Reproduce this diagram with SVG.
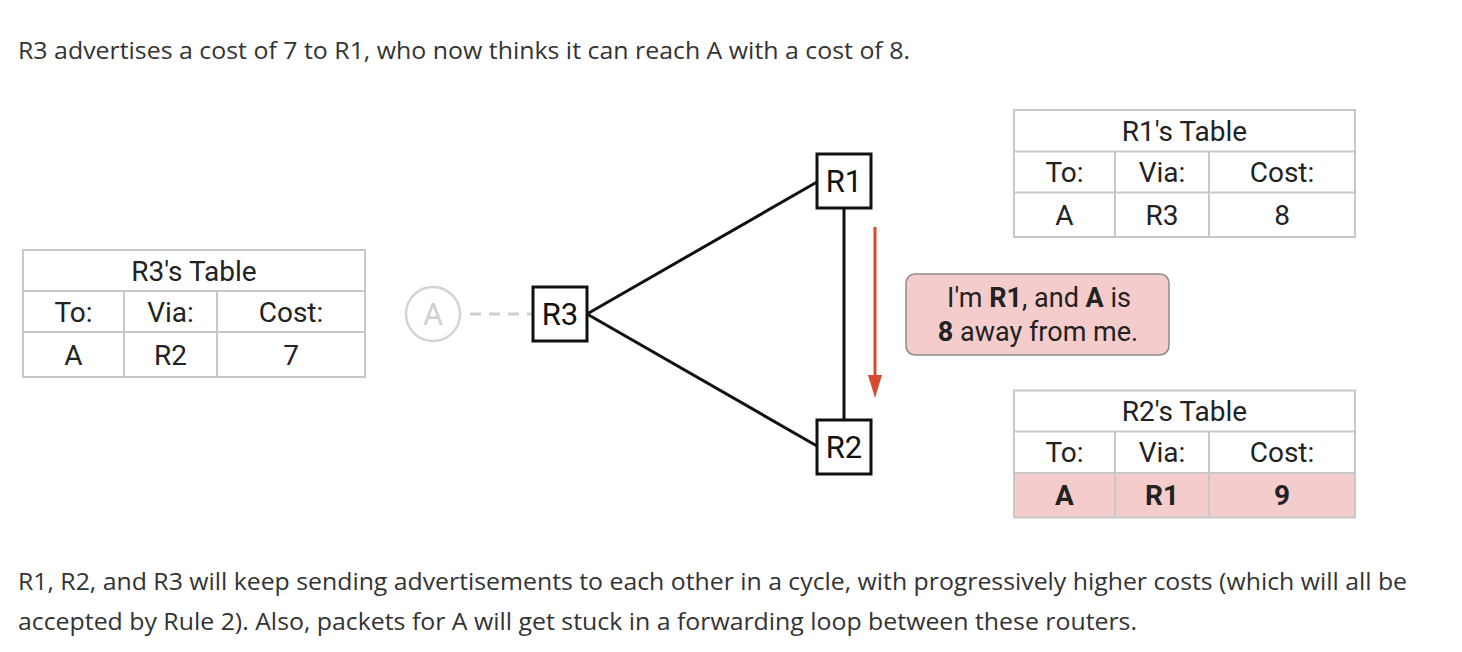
<svg xmlns="http://www.w3.org/2000/svg" width="1462" height="652" viewBox="0 0 1462 652">
<style>
.para{font-family:"Open Sans","Liberation Sans",sans-serif;font-size:24.5px;fill:#333}
.t{font-family:Roboto,"Liberation Sans",sans-serif;font-size:28px;fill:#222;text-anchor:middle}
.rl{font-family:Roboto,"Liberation Sans",sans-serif;font-size:31px;fill:#111;text-anchor:middle}
.bt{font-family:Roboto,"Liberation Sans",sans-serif;font-size:27px;fill:#222;text-anchor:middle}
.b{font-weight:bold}
.grid{fill:none;stroke:#c8c8c8;stroke-width:2}
.router{fill:#fff;stroke:#111;stroke-width:3}
.link{stroke:#111;stroke-width:3;fill:none}
</style>
<rect width="1462" height="652" fill="#fff"/>
<text class="para" x="18" y="59" textLength="892" lengthAdjust="spacingAndGlyphs">R3 advertises a cost of 7 to R1, who now thinks it can reach A with a cost of 8.</text>
<text class="para" x="18" y="590" textLength="1389" lengthAdjust="spacingAndGlyphs">R1, R2, and R3 will keep sending advertisements to each other in a cycle, with progressively higher costs (which will all be</text>
<text class="para" x="18" y="630" textLength="1119" lengthAdjust="spacingAndGlyphs">accepted by Rule 2). Also, packets for A will get stuck in a forwarding loop between these routers.</text>

<g id="connectors">
<line class="link" x1="587" y1="314" x2="817" y2="182"/>
<line class="link" x1="587" y1="314" x2="817" y2="446"/>
<line class="link" x1="844" y1="208" x2="844" y2="420"/>
<line x1="470" y1="314" x2="533" y2="314" stroke="#cfcfcf" stroke-width="3" stroke-dasharray="11,8"/>
<line x1="875" y1="227" x2="875" y2="376" stroke="#d64a2f" stroke-width="3"/>
<path d="M868,375 L882,375 L875,398 Z" fill="#d64a2f"/>
</g>

<g id="nodeA">
<circle cx="433" cy="314" r="27" fill="#fff" stroke="#d4d4d4" stroke-width="2.5"/>
<text class="rl" x="433" y="325" style="fill:#d0d0d0">A</text>
</g>
<g id="R1">
<rect class="router" x="817" y="154" width="54" height="54"/>
<text class="rl" x="844" y="192">R1</text>
</g>
<g id="R3">
<rect class="router" x="533" y="287" width="54" height="54"/>
<text class="rl" x="560" y="325">R3</text>
</g>
<g id="R2">
<rect class="router" x="817" y="420" width="54" height="54"/>
<text class="rl" x="844" y="458">R2</text>
</g>

<g id="R3table">
<rect x="23" y="250" width="342" height="127" fill="#fff"/>
<rect class="grid" x="23" y="250" width="342" height="127"/>
<line class="grid" x1="23" y1="291" x2="365" y2="291"/>
<line class="grid" x1="23" y1="332" x2="365" y2="332"/>
<line class="grid" x1="124" y1="291" x2="124" y2="377"/>
<line class="grid" x1="217" y1="291" x2="217" y2="377"/>
<text class="t" x="194" y="280.5">R3's Table</text>
<text class="t" x="73.5" y="321.5">To:</text>
<text class="t" x="170.5" y="321.5">Via:</text>
<text class="t" x="291" y="321.5">Cost:</text>
<text class="t" x="73.5" y="364.5">A</text>
<text class="t" x="170.5" y="364.5">R2</text>
<text class="t" x="291" y="364.5">7</text>
</g>

<g id="R1table">
<rect x="1014" y="110" width="341" height="127" fill="#fff"/>
<rect class="grid" x="1014" y="110" width="341" height="127"/>
<line class="grid" x1="1014" y1="151.5" x2="1355" y2="151.5"/>
<line class="grid" x1="1014" y1="192.5" x2="1355" y2="192.5"/>
<line class="grid" x1="1115" y1="151.5" x2="1115" y2="237"/>
<line class="grid" x1="1209" y1="151.5" x2="1209" y2="237"/>
<text class="t" x="1184.5" y="141">R1's Table</text>
<text class="t" x="1064.5" y="182">To:</text>
<text class="t" x="1162" y="182">Via:</text>
<text class="t" x="1282" y="182">Cost:</text>
<text class="t" x="1064.5" y="225">A</text>
<text class="t" x="1162" y="225">R3</text>
<text class="t" x="1282" y="225">8</text>
</g>

<g id="bubble">
<rect x="906" y="274" width="263" height="81" rx="9" fill="#f4cccc" stroke="#8a8a8a" stroke-width="1.5"/>
<text class="bt" x="1039" y="307">I'm <tspan class="b">R1</tspan>, and <tspan class="b">A</tspan> is</text>
<text class="bt" x="1038" y="341"><tspan class="b">8</tspan> away from me.</text>
</g>

<g id="R2table">
<rect x="1014" y="390.5" width="341" height="127" fill="#fff"/>
<rect x="1014" y="473" width="341" height="44.5" fill="#f4cccc"/>
<rect class="grid" x="1014" y="390.5" width="341" height="127"/>
<line class="grid" x1="1014" y1="431.5" x2="1355" y2="431.5"/>
<line class="grid" x1="1014" y1="473" x2="1355" y2="473"/>
<line class="grid" x1="1115" y1="431.5" x2="1115" y2="517.5"/>
<line class="grid" x1="1209" y1="431.5" x2="1209" y2="517.5"/>
<text class="t" x="1184.5" y="421">R2's Table</text>
<text class="t" x="1064.5" y="462">To:</text>
<text class="t" x="1162" y="462">Via:</text>
<text class="t" x="1282" y="462">Cost:</text>
<text class="t b" x="1064.5" y="505">A</text>
<text class="t b" x="1162" y="505">R1</text>
<text class="t b" x="1282" y="505">9</text>
</g>
</svg>
